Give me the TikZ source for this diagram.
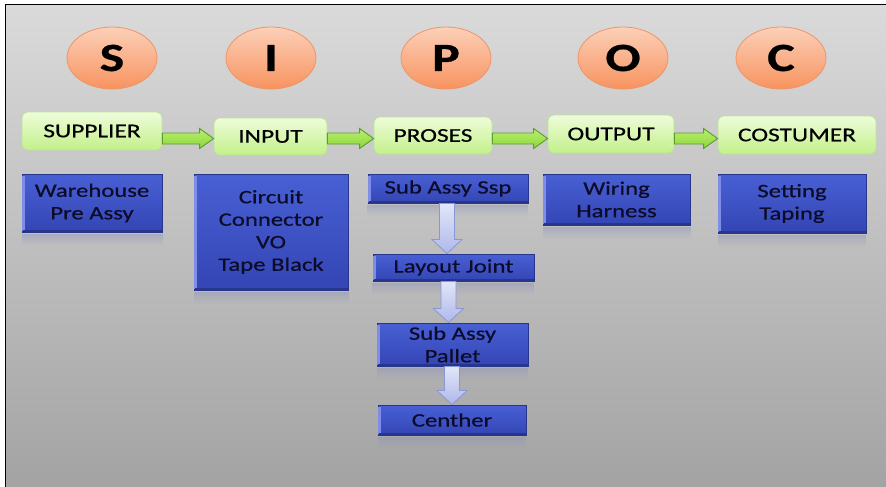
\documentclass[tikz,border=0pt]{standalone}
\usepackage{fontspec}
\setmainfont{Carlito}[FakeStretch=1.3, FakeBold=0.6]
\usetikzlibrary{calc,shapes.geometric,fadings}

\definecolor{pagetop}{HTML}{DADADA}
\definecolor{pagebot}{HTML}{A3A3A3}
\definecolor{bubbletop}{HTML}{FCD0B8}
\definecolor{bubblemid}{HTML}{F9A57E}
\definecolor{bubblebot}{HTML}{F7935F}
\definecolor{bubbleedge}{HTML}{EE9467}
\definecolor{stagetop}{HTML}{EEFCDA}
\definecolor{stagebot}{HTML}{C3F08A}
\definecolor{stageedge}{HTML}{BBE39A}
\definecolor{itemtop}{HTML}{4860D4}
\definecolor{itembot}{HTML}{3445B4}
\definecolor{itemedge}{HTML}{27358C}
\definecolor{itemhl}{HTML}{7D8DE8}
\definecolor{itemtext}{HTML}{0C0C2A}
\definecolor{itemrefl}{HTML}{8F94BA}
\definecolor{passtop}{HTML}{B8EF6E}
\definecolor{passbot}{HTML}{8ED63A}
\definecolor{passedge}{HTML}{5E9C2F}
\definecolor{droptop}{HTML}{E2E6F8}
\definecolor{dropbot}{HTML}{AEB8EA}
\definecolor{dropedge}{HTML}{8A97D6}

\tikzset{
  letterbubble/.style={ellipse, minimum width=90pt, minimum height=62pt, inner sep=0pt,
    draw=bubbleedge, line width=0.8pt, top color=bubbletop, middle color=bubblemid,
    bottom color=bubblebot, font=\fontsize{40}{40}\selectfont\bfseries},
  stagebox/.style={rectangle, rounded corners=6pt, draw=stageedge, line width=0.8pt,
    top color=stagetop, bottom color=stagebot, inner sep=0pt,
    font=\fontsize{19.5}{23}\selectfont},
  itembox/.style={rectangle, draw=itemedge, line width=1pt, top color=itemtop,
    bottom color=itembot, inner sep=0pt, align=center, text=itemtext,
    font=\fontsize{19}{22.5}\selectfont},
  passarrow/.style={draw=passedge, line width=0.9pt, top color=passtop, bottom color=passbot},
  droparrow/.style={draw=dropedge, line width=0.8pt, top color=droptop, bottom color=dropbot},
}

% fat horizontal arrow between two stage boxes, on the common flow line
\newcommand\passto[2]{%
  \path[passarrow] let \p1=(#1.east |- flowline), \p2=(#2.west |- flowline) in
    (\x1,\y1+5.5pt) -- (\x2-14pt,\y1+5.5pt) -- (\x2-14pt,\y1+10pt) -- (\x2,\y1)
    -- (\x2-14pt,\y1-10pt) -- (\x2-14pt,\y1-5.5pt) -- (\x1,\y1-5.5pt) -- cycle;
}
% fat downward arrow from one process box to the next (#3 = sideways offset)
\newcommand\dropto[3]{%
  \path[droparrow] let \p1=(#1.south), \p2=(#2.north) in
    (\x1+#3-7.5pt,\y1) -- (\x1+#3+7.5pt,\y1) -- (\x1+#3+7.5pt,\y2+14pt)
    -- (\x1+#3+15pt,\y2+14pt) -- (\x1+#3,\y2) -- (\x1+#3-15pt,\y2+14pt)
    -- (\x1+#3-7.5pt,\y2+14pt) -- cycle;
}

\begin{document}
\begin{tikzpicture}[x=1pt, y=-1pt]
  \useasboundingbox (0,0) rectangle (886,487);
  % slide background and frame
  \fill[white] (0,0) rectangle (886,487);
  \shade[top color=pagetop, bottom color=pagebot] (5.5,4.5) rectangle (886,487);
  \draw[black, line width=1.2pt] (5.5,487) -- (5.5,4.5) -- (886,4.5);

  % SIPOC letters
  \node[letterbubble] (ls) at (112,58) {S};
  \node[letterbubble] (li) at (271,58) {I};
  \node[letterbubble] (lp) at (446,58) {P};
  \node[letterbubble] (lo) at (623,58) {O};
  \node[letterbubble] (lc) at (781,58) {C};

  % stage boxes
  \coordinate (flowline) at (0,138.5);
  \node[stagebox, minimum width=140pt, minimum height=38pt] (sup) at (92,131) {SUPPLIER};
  \node[stagebox, minimum width=113pt, minimum height=37pt] (inp) at (270.5,136.5) {INPUT};
  \node[stagebox, minimum width=118pt, minimum height=37pt] (pro) at (433,135.5) {PROSES};
  \node[stagebox, minimum width=126pt, minimum height=38pt] (out) at (611,134) {OUTPUT};
  \node[stagebox, minimum width=158pt, minimum height=38pt] (cos) at (797,135) {COSTUMER};

  \passto{sup}{inp}
  \passto{inp}{pro}
  \passto{pro}{out}
  \passto{out}{cos}

  % item boxes
  \node[itembox, minimum width=140pt, minimum height=58pt] (wh) at (92,203) {Warehouse\\Pre Assy};
  \node[itembox, minimum width=154pt, minimum height=116pt] (cir) at (271,232) {Circuit\\Connector\\VO\\Tape Black};
  \node[itembox, minimum width=160pt, minimum height=29pt] (ssp) at (448,188.5) {Sub Assy Ssp};
  \node[itembox, minimum width=161pt, minimum height=27pt] (lay) at (453.5,267.5) {Layout Joint};
  \node[itembox, minimum width=151pt, minimum height=43pt] (pal) at (452.5,344.5) {Sub Assy\\Pallet};
  \node[itembox, minimum width=148pt, minimum height=30pt] (cen) at (452,420) {Centher};
  \node[itembox, minimum width=147pt, minimum height=51pt] (wir) at (616.5,199.5) {Wiring\\Harness};
  \node[itembox, minimum width=148pt, minimum height=59pt] (set) at (792,203.5) {Setting\\Taping};

  % bevel edges and faint reflection under each item box
  \foreach \b in {wh,cir,ssp,lay,pal,cen,wir,set}{
    \draw[itemhl, line width=2.5pt] ([xshift=2.2pt,yshift=-2pt]\b.north west) -- ([xshift=2.2pt,yshift=2pt]\b.south west);
    \draw[itemedge, line width=1.6pt] ([xshift=1pt,yshift=1.3pt]\b.south west) -- ([xshift=-1pt,yshift=1.3pt]\b.south east);
    \fill[itemrefl, opacity=0.45, path fading=south] ([yshift=-1.5pt]\b.south west) rectangle ([yshift=-13pt]\b.south east);
  }

  \dropto{ssp}{lay}{-1pt}
  \dropto{lay}{pal}{-5pt}
  \dropto{pal}{cen}{-0.5pt}
\end{tikzpicture}
\end{document}
